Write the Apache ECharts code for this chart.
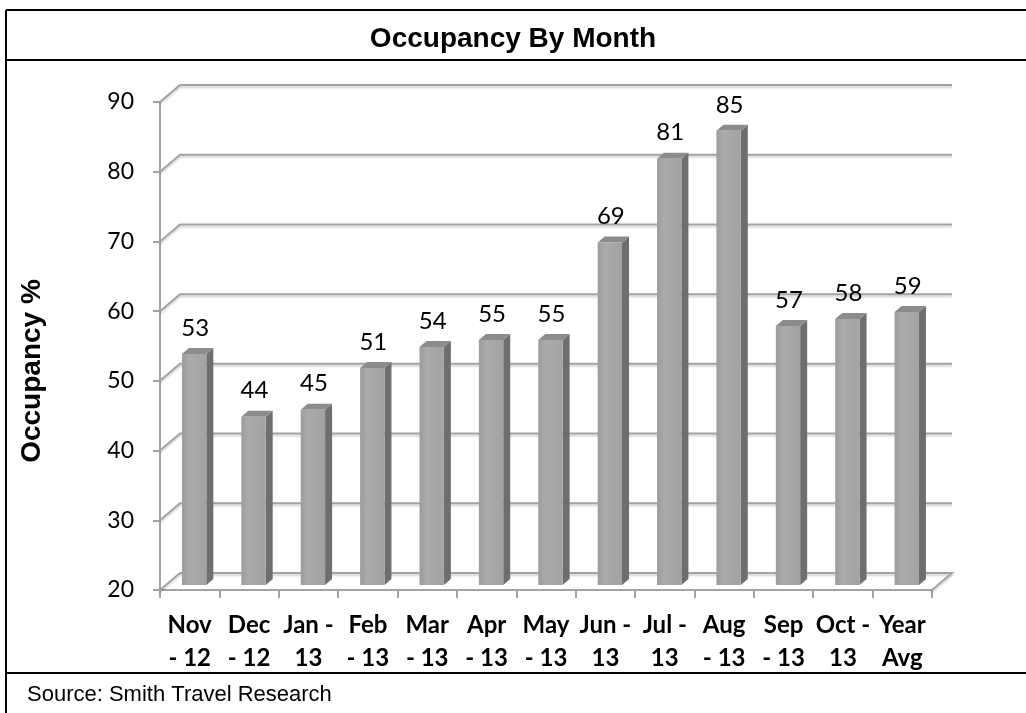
<!DOCTYPE html>
<html>
<head>
<meta charset="utf-8">
<script src="https://cdn.jsdelivr.net/npm/echarts@6/dist/echarts.min.js"></script>
<style>
  html, body { margin: 0; padding: 0; background: #fff; }
  #chart { width: 1026px; height: 713px; }
</style>
</head>
<body>
<div id="chart"></div>
<script>
// data
const categories = ['Nov\n- 12', 'Dec\n- 12', 'Jan -\n13', 'Feb\n- 13', 'Mar\n- 13', 'Apr\n- 13', 'May\n- 13',
  'Jun -\n13', 'Jul -\n13', 'Aug\n- 13', 'Sep\n- 13', 'Oct -\n13', 'Year\nAvg'];
const occupancy = [53, 44, 45, 51, 54, 55, 55, 69, 81, 85, 57, 58, 59];
const yTicks = [20, 30, 40, 50, 60, 70, 80, 90];

const yMin = 20;
const depthX = 20, depthY = -17;   // back wall offset
const gridColor = '#a3a3a3';

const chart = echarts.init(document.getElementById('chart'));

// back wall / floor lines drawn in 3d style
function renderGrid (params, api) {
  const cs = params.coordSys;
  const v = api.value(1);
  const y = api.coord([0, v])[1];
  const left = cs.x, right = cs.x + cs.width;
  let pts = [[left, y], [left + depthX, y + depthY], [right + depthX, y + depthY]];
  if (v === yMin) pts.push([right, y]);
  return {
    type: 'polyline',
    shape: { points: pts },
    style: {
      stroke: gridColor, lineWidth: 2, fill: null,
      shadowColor: 'rgba(0,0,0,0.18)', shadowBlur: 2, shadowOffsetY: 2
    },
    silent: true
  };
}

function renderBar (params, api) {
  const i = api.value(0), v = api.value(1);
  const top = api.coord([i, v]);
  const base = api.coord([i, yMin]);
  const w = api.size([1, 0])[0];
  const bw = w * 0.41;
  const cx = top[0] + w * 0.075;
  const xl = cx - bw / 2, xr = cx + bw / 2;
  const yt = top[1] - 6, yb = base[1] - 5;
  const sx = 7, sy = -6;
  return {
    type: 'group',
    children: [
      {
        type: 'polygon',
        shape: { points: [[xr, yt], [xr + sx, yt + sy], [xr + sx, yb + sy], [xr, yb]] },
        style: { fill: '#6e6e6e' }
      },
      {
        type: 'polygon',
        shape: { points: [[xl, yt], [xr, yt], [xr + sx, yt + sy], [xl + sx, yt + sy]] },
        style: { fill: '#8c8c8c' }
      },
      {
        type: 'rect',
        shape: { x: xl, y: yt, width: bw, height: yb - yt },
        style: {
          fill: new echarts.graphic.LinearGradient(0, 0, 1, 0, [
            { offset: 0, color: '#9c9c9c' },
            { offset: 0.3, color: '#ababab' },
            { offset: 1, color: '#a2a2a2' }
          ])
        }
      },
      {
        type: 'text',
        style: {
          text: String(v), x: cx + 1, y: yt + sy - 8,
          align: 'center', verticalAlign: 'bottom',
          font: '24px Lato', fill: '#000'
        }
      }
    ]
  };
}

const option = {
  animation: false,
  grid: { left: 160, right: 94, top: 102, bottom: 123 },
  xAxis: {
    type: 'category',
    data: categories,
    axisLine: { lineStyle: { color: gridColor, width: 2 } },
    axisTick: { show: true, length: 8, lineStyle: { color: gridColor, width: 2 } },
    axisLabel: {
      color: '#000', fontFamily: 'Lato', fontWeight: 'bold', fontSize: 24,
      lineHeight: 33, margin: 19, interval: 0
    }
  },
  yAxis: {
    type: 'value',
    min: 20, max: 90, interval: 10,
    axisLine: { show: true, lineStyle: { color: gridColor, width: 2 } },
    axisTick: { show: true, length: 7, lineStyle: { color: gridColor, width: 2 } },
    splitLine: { show: false },
    axisLabel: { color: '#000', fontFamily: 'Lato', fontSize: 23, margin: 26 }
  },
  title: {
    text: 'Occupancy By Month',
    left: 'center', top: 20,
    textStyle: { fontFamily: 'Liberation Sans', fontWeight: 'bold', fontSize: 28, color: '#000' }
  },
  graphic: [
    { type: 'line', shape: { x1: 6, y1: 10, x2: 1026, y2: 10 }, style: { stroke: '#000', lineWidth: 2 } },
    { type: 'line', shape: { x1: 6, y1: 60, x2: 1026, y2: 60 }, style: { stroke: '#000', lineWidth: 2 } },
    { type: 'line', shape: { x1: 6, y1: 673, x2: 1026, y2: 673 }, style: { stroke: '#000', lineWidth: 2 } },
    { type: 'line', shape: { x1: 6, y1: 10, x2: 6, y2: 713 }, style: { stroke: '#000', lineWidth: 2 } },
    {
      type: 'text', x: 32, y: 371, rotation: Math.PI / 2,
      style: {
        text: 'Occupancy %', align: 'center', verticalAlign: 'middle',
        font: 'bold 28px "Liberation Sans"', fill: '#000'
      }
    },
    {
      type: 'text', x: 27, y: 695,
      style: {
        text: 'Source: Smith Travel Research', align: 'left', verticalAlign: 'middle',
        font: '22px "Liberation Sans"', fill: '#000'
      }
    }
  ],
  series: [
    {
      type: 'custom',
      renderItem: renderGrid,
      data: yTicks.map(v => [0, v]),
      clip: false,
      silent: true,
      z: 1
    },
    {
      type: 'custom',
      renderItem: renderBar,
      data: occupancy.map((v, i) => [i, v]),
      clip: false,
      z: 3
    }
  ]
};

chart.setOption(option);
</script>
</body>
</html>
